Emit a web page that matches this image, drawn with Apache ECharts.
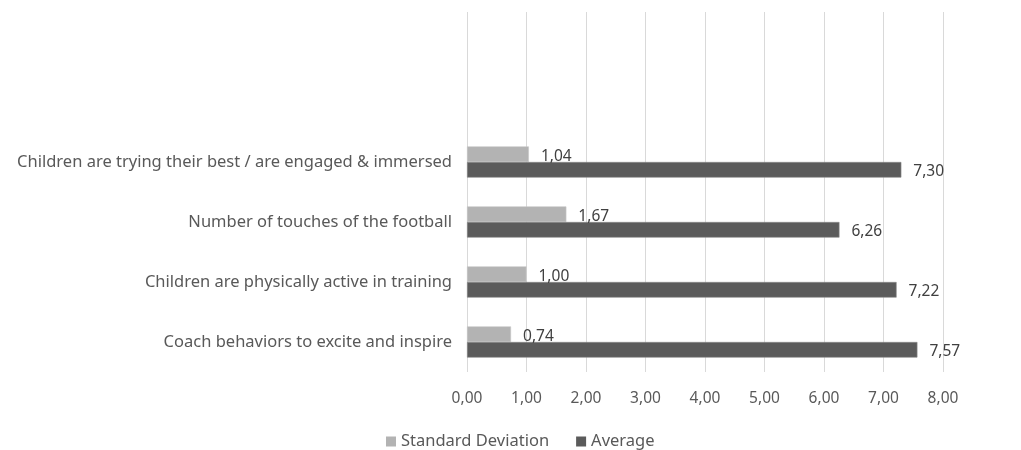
<!DOCTYPE html>
<html>
<head>
<meta charset="utf-8">
<script src="https://cdn.jsdelivr.net/npm/echarts@6/dist/echarts.min.js"></script>
<style>
  html, body { margin: 0; padding: 0; background: #ffffff; }
  #chart { width: 1021px; height: 450px; }
</style>
</head>
<body>
<div id="chart"></div>
<script>
// Survey items, bottom to top; the two blank rows keep the empty space at the top of the plot
const categories = [
  'Coach behaviors to excite and inspire',
  'Children are physically active in training',
  'Number of touches of the football',
  'Children are trying their best / are engaged & immersed',
  '',
  ''
];
const stdDeviation = [0.74, 1.00, 1.67, 1.04, null, null];
const average = [7.57, 7.22, 6.26, 7.30, null, null];
const seriesNames = ['Standard Deviation', 'Average'];
const xTicks = { min: 0, max: 8, interval: 1 };

const fmt = v => (v == null ? '' : Number(v).toFixed(2).replace('.', ','));
const FONT = 'Noto Sans';

const chart = echarts.init(document.getElementById('chart'));
chart.setOption({
  animation: false,
  backgroundColor: '#ffffff',
  grid: { left: 467, right: 78, top: 12, bottom: 78 },
  legend: {
    data: seriesNames,
    bottom: -5,
    left: 381,
    itemWidth: 10,
    itemHeight: 10,
    itemGap: 27,
    icon: 'rect',
    itemStyle: { borderWidth: 0 },
    textStyle: { color: '#595959', fontSize: 16.5, fontFamily: FONT }
  },
  xAxis: {
    type: 'value',
    min: xTicks.min,
    max: xTicks.max,
    interval: xTicks.interval,
    axisLine: { show: false },
    axisTick: { show: false },
    splitLine: { lineStyle: { color: '#d9d9d9', width: 1 } },
    axisLabel: { formatter: fmt, color: '#595959', fontSize: 15.5, fontFamily: FONT, margin: 19 }
  },
  yAxis: {
    type: 'category',
    data: categories,
    axisLine: { show: false },
    axisTick: { show: false },
    axisLabel: { color: '#595959', fontSize: 16.5, fontFamily: FONT, margin: 15 }
  },
  series: [
    {
      name: 'Standard Deviation',
      type: 'bar',
      data: stdDeviation,
      barGap: '0%',
      barCategoryGap: '48%',
      itemStyle: { color: '#b3b3b3', borderColor: '#c8c8c8', borderWidth: 0.6 },
      label: { show: true, position: 'right', distance: 12, offset: [0, 2], formatter: p => fmt(p.value), color: '#404040', fontSize: 15.5, fontFamily: FONT }
    },
    {
      name: 'Average',
      type: 'bar',
      data: average,
      itemStyle: { color: '#5b5b5b', borderColor: '#8a8a8a', borderWidth: 0.6 },
      label: { show: true, position: 'right', distance: 12, offset: [0, 2], formatter: p => fmt(p.value), color: '#404040', fontSize: 15.5, fontFamily: FONT }
    }
  ]
});
</script>
</body>
</html>
